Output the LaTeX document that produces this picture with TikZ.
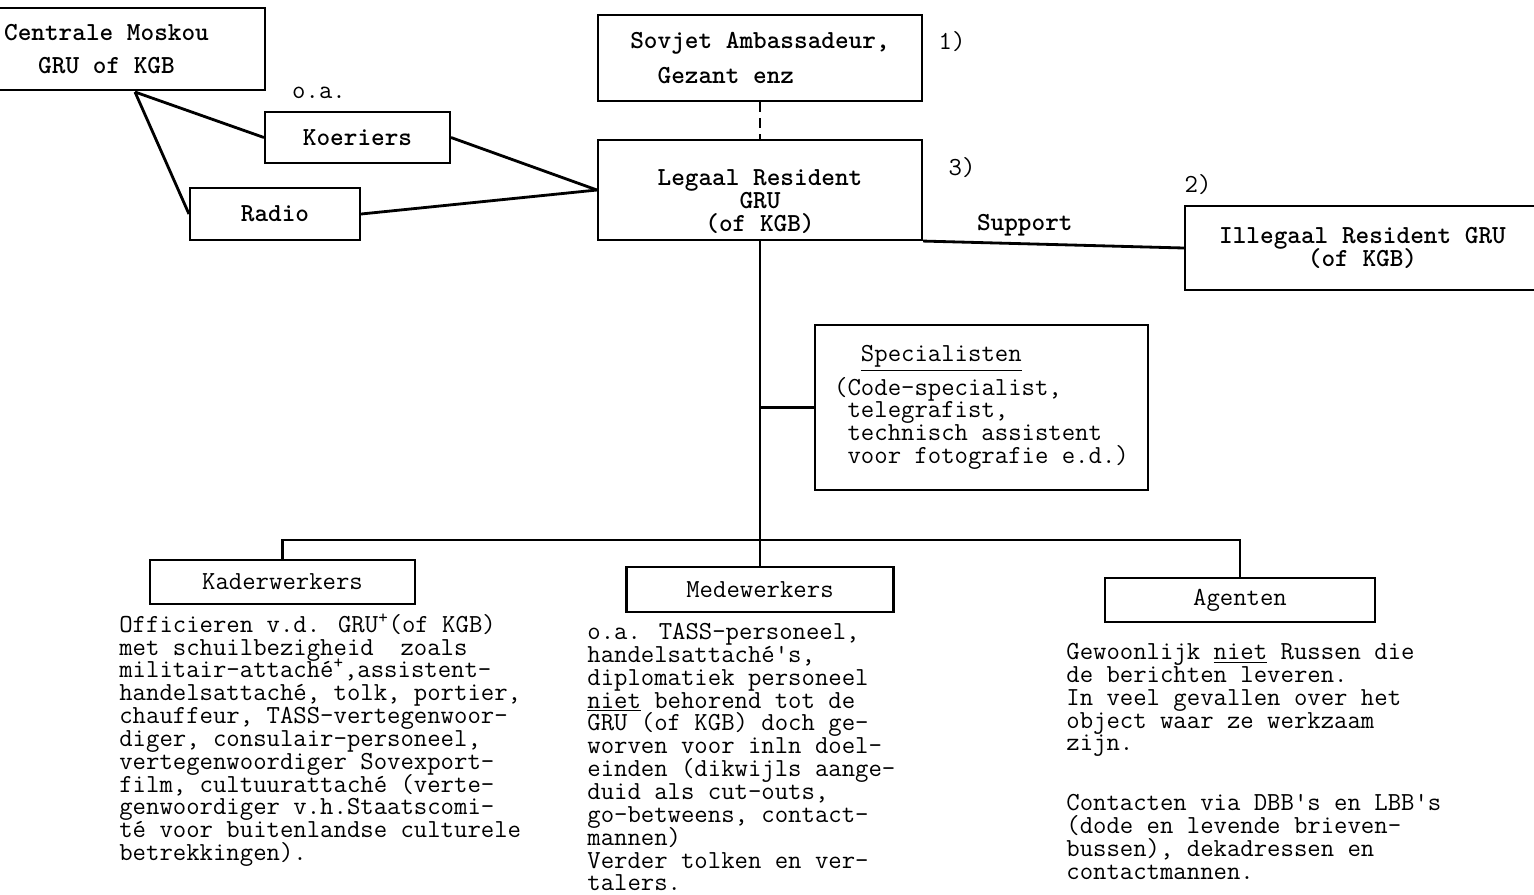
\documentclass[tikz,border=0pt]{standalone}
\usepackage{fontspec}
\usetikzlibrary{positioning}

\newcommand\twfont{\ttfamily\fontsize{14.8}{13}\selectfont\lineskiplimit=-20pt\relax}

\tikzset{
  box/.style={rectangle, draw, line width=1.2pt, inner sep=2pt, align=center},
  topbox/.style={box, font=\twfont\bfseries},
  link/.style={line width=1.6pt},
  body/.style={anchor=north west, align=left, inner sep=0pt},
}

\begin{document}
\begin{tikzpicture}[x=0.02cm, y=-0.02cm, font=\twfont]
    \useasboundingbox (0,0) rectangle (1534,894);
    \clip (0,0) rectangle (1534,894);

    % top row
    \node[topbox, minimum width=6.34cm, minimum height=1.64cm] (moskou) at (106.5,49) {Centrale Moskou\\[6pt]GRU of KGB};
    \node[topbox, minimum width=3.7cm, minimum height=1.02cm] (koeriers) at (357.5,137.5) {Koeriers};
    \node[topbox, minimum width=3.4cm, minimum height=1.04cm] (radio) at (275,214) {Radio};
    \node (oa) at (319,93) {o.a.};
    \coordinate (fork) at (135,92);

    \node[topbox, align=left, minimum width=6.48cm, minimum height=1.72cm] (ambassadeur) at (760,58) {Sovjet Ambassadeur,\\[7pt]\phantom{xx}Gezant enz};
    \node[topbox, minimum width=6.48cm, minimum height=2cm] (legaal) at (760,190) {\rule{0pt}{22pt}Legaal Resident\\GRU\\(of KGB)};
    \node (een) at (952,42) {1)};
    \node (drie) at (962,168) {3)};
    \node (twee) at (1198,185) {2)};
    \node[topbox, minimum width=7.1cm, minimum height=1.68cm] (illegaal) at (1362.5,248) {Illegaal Resident GRU\\(of KGB)};

    % specialisten
    \node[box, align=left, minimum width=6.66cm, minimum height=3.3cm] (specialisten) at (981.5,407.5) {\phantom{xx}\underline{Specialisten}\\[6pt](Code-specialist,\\\phantom{x}telegrafist,\\\phantom{x}technisch assistent\\\phantom{x}voor fotografie e.d.)};
    \coordinate (split) at (760,540);

    % bottom row
    \node[box, minimum width=5.3cm, minimum height=0.88cm] (kader) at (282.5,582) {Kaderwerkers};
    \node[box, minimum width=5.34cm, minimum height=0.9cm] (mede) at (760,589.5) {Medewerkers};
    \node[box, minimum width=5.4cm, minimum height=0.88cm] (agenten) at (1240,600) {Agenten};

    \node[body] (kadertext) at (119,613) {Officieren v.d. GRU\textsuperscript{+}(of KGB)\\met schuilbezigheid\ \ zoals\\militair-attaché\textsuperscript{+},assistent-\\handelsattaché, tolk, portier,\\chauffeur, TASS-vertegenwoor-\\diger, consulair-personeel,\\vertegenwoordiger Sovexport-\\film, cultuurattaché (verte-\\genwoordiger v.h.Staatscomi-\\té voor buitenlandse culturele\\betrekkingen).};
    \node[body] (medetext) at (587,623) {o.a. TASS-personeel,\\handelsattaché's,\\diplomatiek personeel\\\underline{niet} behorend tot de\\GRU (of KGB) doch ge-\\worven voor inln doel-\\einden (dikwijls aange-\\duid als cut-outs,\\go-betweens, contact-\\mannen)\\Verder tolken en ver-\\talers.};
    \node[body] (agententext) at (1066,643) {Gewoonlijk \underline{niet} Russen die\\de berichten leveren.\\In veel gevallen over het\\object waar ze werkzaam\\zijn.\\[21pt]Contacten via DBB's en LBB's\\(dode en levende brieven-\\bussen), dekadressen en\\contactmannen.};

    % connections
    \draw[link] (fork) -- (koeriers.west);
    \draw[link] (fork) -- (radio.west);
    \draw[link] (koeriers.east) -- (legaal.west);
    \draw[link] (radio.east) -- (legaal.west);
    \draw[link, dash pattern=on 0.2cm off 0.12cm] (ambassadeur.south) -- (legaal.north);
    \draw[link] (legaal.south east) -- (illegaal.west) node[pos=0.39, above, font=\twfont\bfseries] {Support};
    \draw[link] (legaal.south) -- (split);
    \draw[link] (legaal.south |- specialisten.west) -- (specialisten.west);
    \draw[link] (kader.north) |- (agenten.north |- split) -- (agenten.north);
    \draw[link] (split) -- (mede.north);
\end{tikzpicture}
\end{document}
